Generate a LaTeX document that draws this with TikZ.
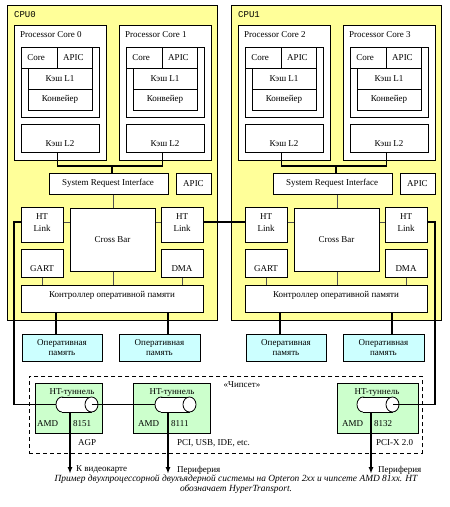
\documentclass[tikz,border=0pt]{standalone}
\usepackage{fontspec}
\setmainfont{Liberation Serif}
\newfontfamily\monofnt{Liberation Mono}
\usetikzlibrary{calc,arrows.meta}
\definecolor{cpuyellow}{HTML}{FFFF99}
\definecolor{ramcyan}{HTML}{CCFFFF}
\definecolor{tungreen}{HTML}{CCFFCC}
\definecolor{thinline}{HTML}{505050}
\newcommand\mybox[6][]{\node[box,anchor=north west,minimum width={(#5)-(#3)},minimum height={(#6)-(#4)},#1] (#2) at (#3,#4) {};}
\newcommand\mycyl[3]{%
  \draw[line width=0.8pt,fill=white] (#2+6,404.5) ellipse [x radius=6,y radius=7.5];
  \fill[white] (#2+6,397) rectangle (#3-6.5,412);
  \draw[line width=0.8pt] (#2+6,397) -- (#3-6.5,397) (#2+6,412) -- (#3-6.5,412);
  \draw[line width=0.8pt,fill=white] (#3-6.5,404.5) ellipse [x radius=6.5,y radius=7.5];
  \coordinate (#1L) at (#2,404.5);
  \coordinate (#1R) at (#3-6.5,404.5);
}
\begin{document}
\begin{tikzpicture}[x=1pt,y=-1pt,
  box/.style={draw,fill=white,inner sep=0pt,line width=0.8pt},
  txt/.style={inner sep=0pt,font=\fontsize{9}{11}\selectfont},
  bus/.style={line width=1.5pt},
  thinconn/.style={line width=0.8pt,draw=thinline},
  >={Latex[length=7pt,width=5pt]}]
\fill[white] (0,0) rectangle (450,507);
\useasboundingbox (0,0) rectangle (450,507);

\foreach \c/\dx in {0/0,1/224}{
\begin{scope}[shift={(\dx,0)}]
  \mybox[fill=cpuyellow]{cpu\c}{7}{5}{217}{320}
  \node[txt,font=\monofnt\fontsize{9}{11}\selectfont,anchor=west] (tcpu\c) at (14,15) {CPU\c};
  \foreach \j in {0,1}{
    \pgfmathtruncatemacro\n{2*\c+\j}
    \begin{scope}[shift={(\j*105,0)}]
      \mybox{pc\n}{14}{25}{106}{160}
      \node[txt,anchor=west] (tpc\n) at (20,35) {Processor Core \n};
      \mybox{ci\n}{21}{47}{99}{117}
      \mybox{co\n}{21}{47}{57}{68}
      \node[txt] (tco\n) at (36,57.5) {Core};
      \mybox{ap\n}{57}{47}{92}{68}
      \node[txt] (tap\n) at (73.5,57.5) {APIC};
      \mybox{la\n}{28}{68}{92}{89}
      \node[txt] (tla\n) at (60,78.5) {Кэш L1};
      \mybox{kv\n}{28}{89}{92}{110}
      \node[txt] (tkv\n) at (60,99.5) {Конвейер};
      \mybox{lb\n}{21}{124}{99}{152}
      \node[txt] (tlb\n) at (60,144) {Кэш L2};
    \end{scope}
  }
  \mybox{sri\c}{49}{173}{168}{194}
  \node[txt] (tsri\c) at (108,183.5) {System Request Interface};
  \mybox{apic\c}{176}{173}{211}{194}
  \node[txt] (tapic\c) at (193.5,183.5) {APIC};
  \mybox{htl\c}{21}{207}{63}{242}
  \node[txt,align=center,font=\fontsize{9}{12}\selectfont] (thtl\c) at (42,222.5) {HT\\Link};
  \mybox{htr\c}{161}{207}{203}{242}
  \node[txt,align=center,font=\fontsize{9}{12}\selectfont] (thtr\c) at (182,222.5) {HT\\Link};
  \mybox{cb\c}{70}{208}{155}{271}
  \node[txt] (tcb\c) at (112.5,240) {Cross Bar};
  \mybox{gart\c}{21}{249}{63}{277}
  \node[txt] (tgart\c) at (42,269) {GART};
  \mybox{dma\c}{161}{249}{203}{277}
  \node[txt] (tdma\c) at (182,269) {DMA};
  \mybox{mc\c}{21}{285}{203}{312}
  \node[txt] (tmc\c) at (112,295.5) {Контроллер оперативной памяти};
  \mybox[fill=ramcyan]{rama\c}{22}{334}{102}{361}
  \node[txt,align=center,font=\fontsize{9}{10}\selectfont] (trama\c) at (62,348) {Оперативная\\память};
  \mybox[fill=ramcyan]{ramb\c}{119}{334}{200}{361}
  \node[txt,align=center,font=\fontsize{9}{10}\selectfont] (tramb\c) at (159.5,348) {Оперативная\\память};
  \pgfmathtruncatemacro\na{2*\c}
  \pgfmathtruncatemacro\nb{2*\c+1}
  \coordinate (bus\c) at (112,166);
  \draw[bus] ([xshift=-3pt]lb\na.south) |- (bus\c) -| ([xshift=-3pt]lb\nb.south);
  \draw[bus] (bus\c) -- (bus\c |- sri\c.north);
  \draw[thinconn] (cb\c.north) -- (cb\c.north |- sri\c.south);
  \draw[thinconn] ([yshift=3pt]htl\c.east) -- ([yshift=3pt]htl\c.east -| cb\c.west);
  \draw[thinconn] ([yshift=3pt]htr\c.west) -- ([yshift=3pt]htr\c.west -| cb\c.east);
  \draw[thinconn] (cb\c.south) -- (cb\c.south |- mc\c.north);
  \draw[thinconn] (gart\c.south) -- (gart\c.south |- mc\c.north);
  \draw[thinconn] (dma\c.south) -- (dma\c.south |- mc\c.north);
  \draw[bus] ($(mc\c.south west)+(35,0)$) -- ($(rama\c.north west)+(34,0)$);
  \draw[bus] ($(mc\c.south west)+(147,0)$) -- ($(ramb\c.north west)+(49,0)$);
\end{scope}
}

% chipset
\mybox[fill=none,dash pattern=on 4pt off 3pt]{chip}{29}{376}{422}{453}
\node[txt] (tchip) at (242,385) {«Чипсет»};
\mybox[fill=tungreen]{tun1}{35}{383}{102}{433}
\mybox[fill=tungreen]{tun2}{133}{383}{210}{433}
\mybox[fill=tungreen]{tun3}{337}{383}{418}{433}
\node[txt] (ttun1) at (72,392.5) {HT-туннель};
\node[txt] (ttun2) at (172,392.5) {HT-туннель};
\node[txt] (ttun3) at (377,392.5) {HT-туннель};
\node[txt,anchor=west] (amd1) at (37,424) {AMD};
\node[txt,anchor=west] (amd2) at (138,424) {AMD};
\node[txt,anchor=west] (amd3) at (342,424) {AMD};
\node[txt,anchor=west] (num1) at (73,424) {8151};
\node[txt,anchor=west] (num2) at (171,424) {8111};
\node[txt,anchor=west] (num3) at (374,424) {8132};

\mycyl{ca}{56}{98}
\mycyl{cb}{155}{196}
\mycyl{cc}{357}{399}
\coordinate (caB) at (70,412);
\coordinate (cbB) at (168,412);
\coordinate (ccB) at (371,412);
\coordinate (arA) at (70,474);
\coordinate (arB) at (168,474);
\coordinate (arC) at (371,474);

\draw[bus] ([yshift=3pt]htl0.west) -- ++(-7,0) |- (caL);
\draw[bus] ([yshift=3pt]htr0.east) -- ([yshift=3pt]htl1.west);
\draw[bus] ([yshift=3pt]htr1.east) -- ++(7,0) |- (ccR);
\draw[bus] (caR) -- (cbL);
\draw[bus,->] (caB) -- (arA);
\draw[bus,->] (cbB) -- (arB);
\draw[bus,->] (ccB) -- (arC);

\node[txt,anchor=west] (agp) at (78,443) {AGP};
\node[txt,anchor=west] (pci) at (177,443) {PCI, USB, IDE, etc.};
\node[txt,anchor=west] (pcix) at (376,443) {PCI-X 2.0};
\node[txt,anchor=west] (dst1) at (76,470) {К видеокарте};
\node[txt,anchor=west] (dst2) at (177,470) {Периферия};
\node[txt,anchor=west] (dst3) at (378,470) {Периферия};

\node[txt,font=\itshape\fontsize{9.4}{10}\selectfont,align=center] (cap) at (236,484.5)
  {Пример двухпроцессорной двухъядерной системы на Opteron 2xx и чипсете AMD 81xx. HT\\обозначает HyperTransport.};
\end{tikzpicture}
\end{document}
